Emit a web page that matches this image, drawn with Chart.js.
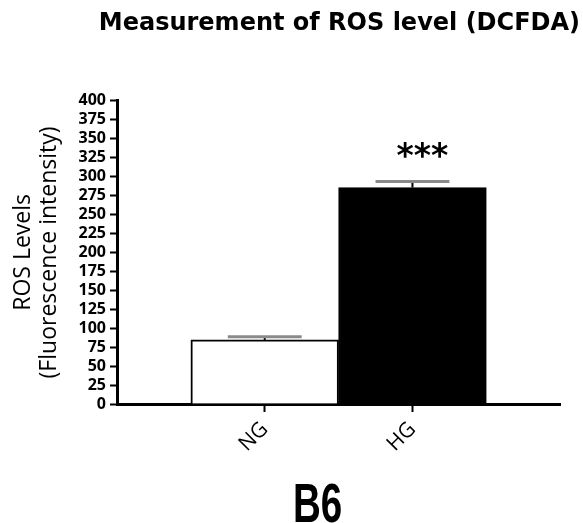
<!DOCTYPE html>
<html><head><meta charset="utf-8">
<script src="https://cdn.jsdelivr.net/npm/chart.js@4"></script>
<style>html,body{margin:0;padding:0;background:#fff;}#wrap{width:583px;height:523px;}</style>
</head><body><div id="wrap"><canvas id="c" width="583" height="523"></canvas></div>
<script>
// ---- data ----
const categories = ['NG', 'HG'];
const rosValues = [84.5, 285.5];
const rosErrors = [4.3, 8.0];
const significance = ['', '***'];
const yTicks = [0, 25, 50, 75, 100, 125, 150, 175, 200, 225, 250, 275, 300, 325, 350, 375, 400];
const barFills = ['#ffffff', '#000000'];
const chartTitle = 'Measurement of ROS level (DCFDA)';
const yTitle = ['ROS Levels', '(Fluorescence intensity)'];
const panelLabel = 'B6';

// padded category axis (empty slots at both ends)
const labels = ['', ...categories, ''];
const values = [null, ...rosValues, null];
const errors = [null, ...rosErrors, null];
const stars = ['', ...significance, ''];
const fills = ['#fff', ...barFills, '#fff'];

const errorBarPlugin = {
  id: 'errorBars',
  afterDatasetsDraw(chart) {
    const meta = chart.getDatasetMeta(0);
    const y = chart.scales.y;
    const ctx = chart.ctx;
    ctx.save();
    meta.data.forEach((bar, i) => {
      const v = values[i];
      if (v === null) return;
      const top = y.getPixelForValue(v);
      const errY = y.getPixelForValue(v + errors[i]);
      const half = bar.width / 4;
      ctx.strokeStyle = '#000';
      ctx.lineWidth = 2;
      ctx.beginPath();
      ctx.moveTo(bar.x, top);
      ctx.lineTo(bar.x, errY);
      ctx.stroke();
      ctx.strokeStyle = '#8a8a8a';
      ctx.lineWidth = 3;
      ctx.beginPath();
      ctx.moveTo(bar.x - half, errY);
      ctx.lineTo(bar.x + half, errY);
      ctx.stroke();
      if (stars[i]) {
        ctx.fillStyle = '#000';
        ctx.font = 'bold 33px "DejaVu Sans"';
        ctx.textAlign = 'center';
        ctx.textBaseline = 'alphabetic';
        ctx.fillText(stars[i], bar.x + 10, errY - 15);
      }
    });
    ctx.restore();
  }
};

const panelLabelPlugin = {
  id: 'panelLabel',
  afterDraw(chart) {
    const ctx = chart.ctx;
    ctx.save();
    ctx.fillStyle = '#000';
    ctx.font = 'bold 55px "Liberation Sans", Arial, sans-serif';
    ctx.textAlign = 'center';
    ctx.textBaseline = 'alphabetic';
    ctx.translate(317.5, 522);
    ctx.scale(0.7, 1);
    ctx.fillText(panelLabel, 0, 0);
    ctx.restore();
  }
};

new Chart(document.getElementById('c'), {
  type: 'bar',
  data: {
    labels: labels,
    datasets: [{
      data: values,
      backgroundColor: fills,
      borderColor: '#000',
      borderWidth: 2,
      barPercentage: 1,
      categoryPercentage: 1
    }]
  },
  options: {
    responsive: false,
    animation: false,
    devicePixelRatio: 1,
    layout: { padding: { left: 0, right: 3, top: 0, bottom: 0 } },
    plugins: {
      legend: { display: false },
      tooltip: { enabled: false },
      title: {
        display: true,
        text: chartTitle,
        fullSize: true,
        align: 'end',
        color: '#000',
        font: { family: '"DejaVu Sans"', size: 24, weight: 'bold', lineHeight: 1.2 },
        padding: { top: 9, bottom: 63 }
      }
    },
    scales: {
      x: {
        type: 'category',
        offset: false,
        afterFit: s => { s.height = 119; },
        grid: {
          offset: false,
          drawOnChartArea: false,
          drawTicks: true,
          tickLength: 8,
          tickWidth: 2,
          tickColor: c => (labels[c.index] ? '#000' : 'rgba(0,0,0,0)')
        },
        border: { display: true, color: '#000', width: 3 },
        ticks: {
          color: '#000',
          autoSkip: false,
          maxRotation: 45,
          minRotation: 45,
          padding: 5,
          font: { family: '"Open Sans"', size: 21 }
        }
      },
      y: {
        min: 0,
        max: 400,
        afterFit: s => { s.width = 117; },
        afterBuildTicks: s => { s.ticks = yTicks.map(v => ({ value: v })); },
        grid: {
          drawOnChartArea: false,
          drawTicks: true,
          tickLength: 7,
          tickWidth: 2,
          tickColor: '#000'
        },
        border: { display: true, color: '#000', width: 3 },
        ticks: {
          color: '#000',
          autoSkip: false,
          padding: 4,
          font: { family: '"Open Sans"', size: 16, weight: 'bold' }
        },
        title: {
          display: true,
          text: yTitle,
          color: '#000',
          font: { family: '"Open Sans"', size: 23, lineHeight: 1.15 },
          padding: { top: 10, bottom: 0 }
        }
      },
      yRightSpacer: {
        type: 'linear',
        position: 'right',
        display: true,
        min: 0,
        max: 400,
        afterFit: s => { s.width = 19; },
        grid: { display: false, drawTicks: false },
        border: { display: false },
        ticks: { display: false }
      }
    }
  },
  plugins: [errorBarPlugin, panelLabelPlugin]
});
</script>
</body></html>
